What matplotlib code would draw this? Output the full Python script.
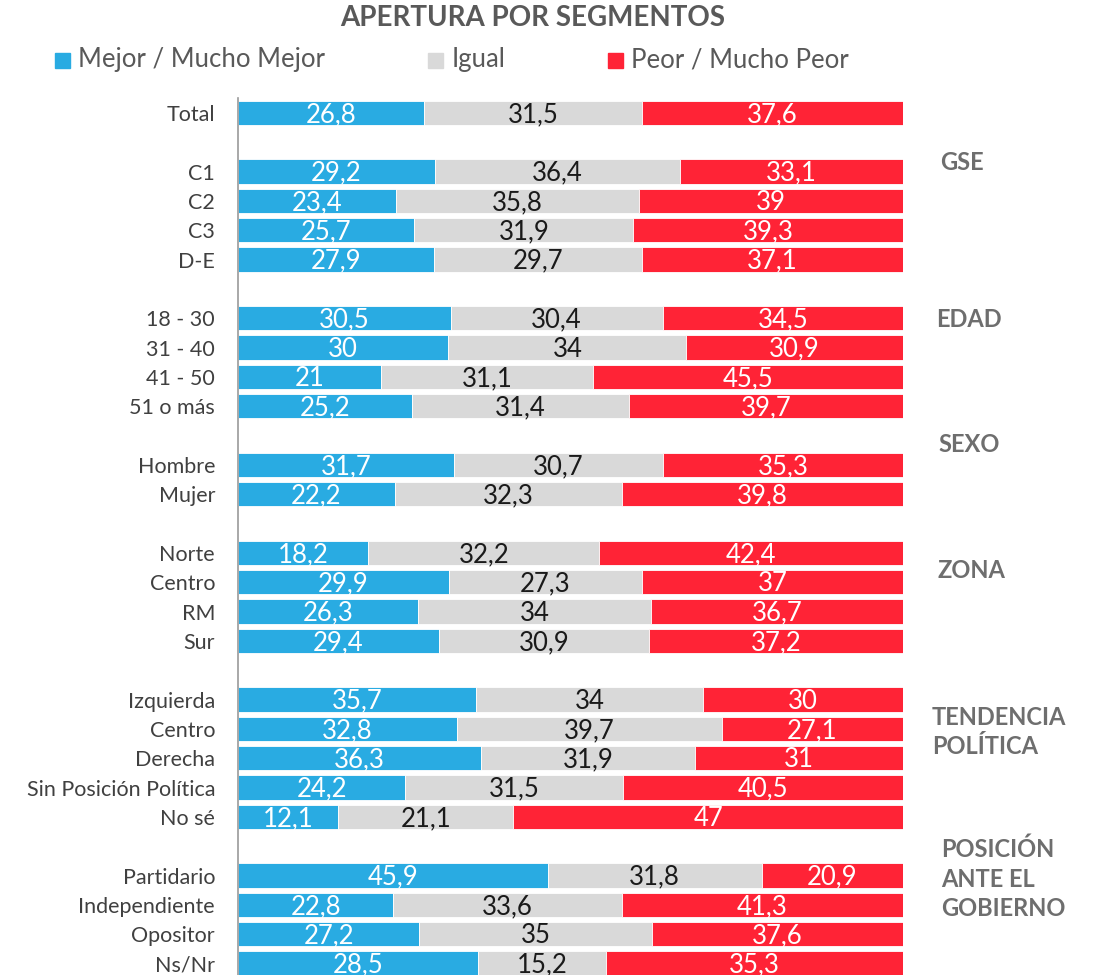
import matplotlib.pyplot as plt
from matplotlib.patches import Rectangle

# Data
categories = ["Total",
              "C1", "C2", "C3", "D-E",
              "18 - 30", "31 - 40", "41 - 50", "51 o más",
              "Hombre", "Mujer",
              "Norte", "Centro", "RM", "Sur",
              "Izquierda", "Centro", "Derecha", "Sin Posición Política", "No sé",
              "Partidario", "Independiente", "Opositor", "Ns/Nr"]
mejor = [26.8, 29.2, 23.4, 25.7, 27.9, 30.5, 30, 21, 25.2, 31.7, 22.2,
         18.2, 29.9, 26.3, 29.4, 35.7, 32.8, 36.3, 24.2, 12.1,
         45.9, 22.8, 27.2, 28.5]
igual = [31.5, 36.4, 35.8, 31.9, 29.7, 30.4, 34, 31.1, 31.4, 30.7, 32.3,
         32.2, 27.3, 34, 30.9, 34, 39.7, 31.9, 31.5, 21.1,
         31.8, 33.6, 35, 15.2]
peor = [37.6, 33.1, 39, 39.3, 37.1, 34.5, 30.9, 45.5, 39.7, 35.3, 39.8,
        42.4, 37, 36.7, 37.2, 30, 27.1, 31, 40.5, 47,
        20.9, 41.3, 37.6, 35.3]
group_sizes = [1, 4, 4, 2, 4, 5, 4]
group_names = ["GSE", "EDAD", "SEXO", "ZONA", "TENDENCIA\nPOLÍTICA",
               "POSICIÓN\nANTE EL\nGOBIERNO"]
series_names = ["Mejor / Mucho Mejor", "Igual", "Peor / Mucho Peor"]

# Style
colors = ["#29ABE2", "#D9D9D9", "#FF2336"]
text_colors = ["white", "#1a1a1a", "white"]
plt.rcParams['font.family'] = ['Lato', 'DejaVu Sans']

# row positions with a blank row between groups
rows = []
r = 0
for size in group_sizes:
    for _ in range(size):
        rows.append(r)
        r += 1
    r += 1

W, H = 1096, 975
fig = plt.figure(figsize=(W / 100, H / 100), dpi=100)
ax = fig.add_axes([238 / W, 0, (903 - 238) / W, (975 - 98) / H])
ax.set_ylim(29.39, -0.51)
ax.set_xlim(0, 100)

lefts = [0.0] * len(categories)
for s, vals in enumerate([mejor, igual, peor]):
    for i in range(len(categories)):
        tot = mejor[i] + igual[i] + peor[i]
        w = vals[i] / tot * 100
        ax.barh(rows[i], w, left=lefts[i], height=0.83, color=colors[s],
                edgecolor="white", linewidth=0.6)
        label = f"{vals[i]:g}".replace(".", ",")
        ax.text(lefts[i] + w / 2, rows[i] + 0.05, label, ha="center", va="center",
                fontsize=18.5, color=text_colors[s])
        lefts[i] += w

ax.set_yticks(rows)
ax.set_yticklabels(categories, fontsize=15.5, color="#404040")
ax.tick_params(axis="y", length=0, pad=16.5)
ax.set_xticks([])
for side in ["top", "right", "bottom"]:
    ax.spines[side].set_visible(False)
ax.spines["left"].set_color("#9a9a9a")
ax.spines["left"].set_linewidth(1.2)

# group labels on the right
group_rows = [1.7, 7.05, 11.31, 15.6, 21.1, 26.12]
group_x = [940, 936, 938, 937, 932, 941]
for name, gy, gx in zip(group_names, group_rows, group_x):
    ax.text((gx - 238) / (903 - 238) * 100, gy, name, ha="left", va="center",
            fontsize=17, fontweight="bold", color="#6e6e6e",
            linespacing=1.34, clip_on=False)

# title and legend
fig.text(533 / W, 1 - 18 / H, "APERTURA POR SEGMENTOS", ha="center", va="center",
         fontsize=20, fontweight="bold", color="#595959")
leg_sq = [55, 428, 608]
leg_tx = [78, 452, 631]
for c, name, sx, tx in zip(colors, series_names, leg_sq, leg_tx):
    fig.patches.append(Rectangle((sx / W, 1 - 68 / H), 15 / W, 15 / H,
                                 transform=fig.transFigure, color=c))
    fig.text(tx / W, 1 - 60 / H, name, ha="left", va="center",
             fontsize=18.5, color="#595959")

fig.savefig("out.png", dpi=100)
